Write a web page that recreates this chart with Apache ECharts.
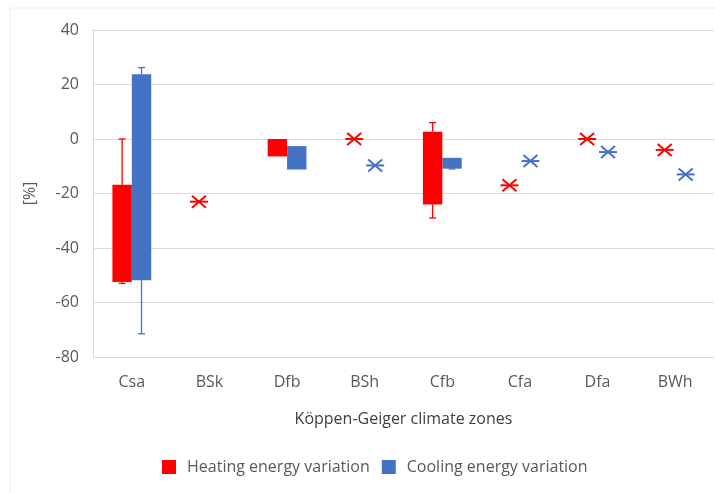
<!DOCTYPE html>
<html>
<head>
<meta charset="utf-8">
<script src="https://cdn.jsdelivr.net/npm/echarts@6/dist/echarts.min.js"></script>
<style>html,body{margin:0;padding:0;background:#fff}#c{width:715px;height:493px}</style>
</head>
<body>
<div id="c"></div>
<script>
var categories = ['Csa', 'BSk', 'Dfb', 'BSh', 'Cfb', 'Cfa', 'Dfa', 'BWh'];
// Heating energy variation [%] (min, box low, box high, max); a point when all equal
var heatingMin  = [-53, -23, -6.4, 0, -29, -17, 0, -4];
var heatingLow  = [-52.5, -23, -6.4, 0, -24, -17, 0, -4];
var heatingHigh = [-16.8, -23, 0, 0, 2.7, -17, 0, -4];
var heatingMax  = [0, -23, 0, 0, 6, -17, 0, -4];
// Cooling energy variation [%]
var coolingMin  = [-71.5, null, -11.2, -9.7, -11, -8.1, -4.8, -13];
var coolingLow  = [-51.8, null, -11.2, -9.7, -10.9, -8.1, -4.8, -13];
var coolingHigh = [23.8, null, -2.6, -9.7, -6.9, -8.1, -4.8, -13];
var coolingMax  = [26.2, null, -2.6, -9.7, -6.9, -8.1, -4.8, -13];
var yTicks = [-80, -60, -40, -20, 0, 20, 40];

function rows(mn, lo, hi, mx) {
  var out = [];
  for (var i = 0; i < categories.length; i++) {
    if (lo[i] === null) continue;
    out.push([i, mn[i], lo[i], hi[i], mx[i]]);
  }
  return out;
}

function makeRender(color, side) {
  return function (params, api) {
    var idx = api.value(0);
    var band = api.size([1, 0])[0];
    var cx = api.coord([idx, 0])[0];
    var boxW = band * 0.25;
    var children = [];
    var vMin = api.value(1), vLo = api.value(2), vHi = api.value(3), vMax = api.value(4);
    if (vLo === vHi && vMin === vMax && vMin === vLo) {
      var px = cx + side * band * 0.135;
      var py = api.coord([idx, vLo])[1];
      var s = { stroke: color, lineWidth: 2 };
      children.push({ type: 'line', shape: { x1: px - 9, y1: py, x2: px + 9, y2: py }, style: s });
      children.push({ type: 'line', shape: { x1: px - 7, y1: py - 6, x2: px + 7, y2: py + 6 }, style: s });
      children.push({ type: 'line', shape: { x1: px - 7, y1: py + 6, x2: px + 7, y2: py - 6 }, style: s });
      return { type: 'group', children: children };
    }
    var x0 = side < 0 ? cx - boxW : cx;
    var mid = x0 + boxW / 2;
    var yLo = api.coord([idx, vLo])[1];
    var yHi = api.coord([idx, vHi])[1];
    var yMin = api.coord([idx, vMin])[1];
    var yMax = api.coord([idx, vMax])[1];
    var ls = { stroke: color, lineWidth: 1.3 };
    if (vMax > vHi) {
      children.push({ type: 'line', shape: { x1: mid, y1: yHi, x2: mid, y2: yMax }, style: ls });
      children.push({ type: 'line', shape: { x1: mid - 3.5, y1: yMax, x2: mid + 3.5, y2: yMax }, style: ls });
    }
    if (vMin < vLo) {
      children.push({ type: 'line', shape: { x1: mid, y1: yLo, x2: mid, y2: yMin }, style: ls });
      children.push({ type: 'line', shape: { x1: mid - 3.5, y1: yMin, x2: mid + 3.5, y2: yMin }, style: ls });
    }
    children.push({ type: 'rect', shape: { x: x0, y: yHi, width: boxW, height: yLo - yHi }, style: { fill: color } });
    return { type: 'group', children: children };
  };
}

var txt = '#595959';
var font = 'Open Sans';
var chart = echarts.init(document.getElementById('c'), null, { renderer: 'canvas' });
chart.setOption({
  animation: false,
  textStyle: { fontFamily: font },
  graphic: [{ type: 'rect', shape: { x: 10, y: 8, width: 800, height: 600 }, style: { fill: 'none', stroke: '#eeeeee', lineWidth: 1 }, silent: true }],
  grid: { left: 93, right: 1, top: 30, bottom: 136 },
  legend: {
    left: 157, top: 454,
    itemWidth: 14, itemHeight: 14, itemGap: 12,
    textStyle: { color: txt, fontSize: 16, fontFamily: font, padding: [0, 0, 0, 6] },
    data: [
      { name: 'Heating energy variation', icon: 'rect', itemStyle: { color: '#FF0000' } },
      { name: 'Cooling energy variation', icon: 'rect', itemStyle: { color: '#4472C4' } }
    ]
  },
  xAxis: {
    type: 'category', data: categories,
    name: 'Köppen-Geiger climate zones', nameLocation: 'middle', nameGap: 54,
    nameTextStyle: { color: '#404040', fontSize: 16, fontFamily: font },
    axisLine: { lineStyle: { color: '#d9d9d9' } },
    axisTick: { show: false },
    axisLabel: { color: txt, fontSize: 16, margin: 17 },
    splitLine: { show: false }
  },
  yAxis: {
    type: 'value', min: yTicks[0], max: yTicks[yTicks.length - 1], interval: 20,
    name: '[%]', nameLocation: 'middle', nameGap: 55, nameRotate: 90,
    nameTextStyle: { color: txt, fontSize: 16, fontFamily: font },
    axisLine: { show: true, lineStyle: { color: '#d9d9d9' } },
    axisTick: { show: false },
    axisLabel: { color: txt, fontSize: 16, margin: 14 },
    splitLine: { lineStyle: { color: '#d9d9d9' } }
  },
  series: [
    { name: 'Heating energy variation', type: 'custom', itemStyle: { color: '#FF0000' },
      renderItem: makeRender('#FF0000', -1), encode: { x: 0, y: [1, 2, 3, 4] },
      data: rows(heatingMin, heatingLow, heatingHigh, heatingMax), z: 3 },
    { name: 'Cooling energy variation', type: 'custom', itemStyle: { color: '#4472C4' },
      renderItem: makeRender('#4472C4', 1), encode: { x: 0, y: [1, 2, 3, 4] },
      data: rows(coolingMin, coolingLow, coolingHigh, coolingMax), z: 2 }
  ]
});
</script>
</body>
</html>
